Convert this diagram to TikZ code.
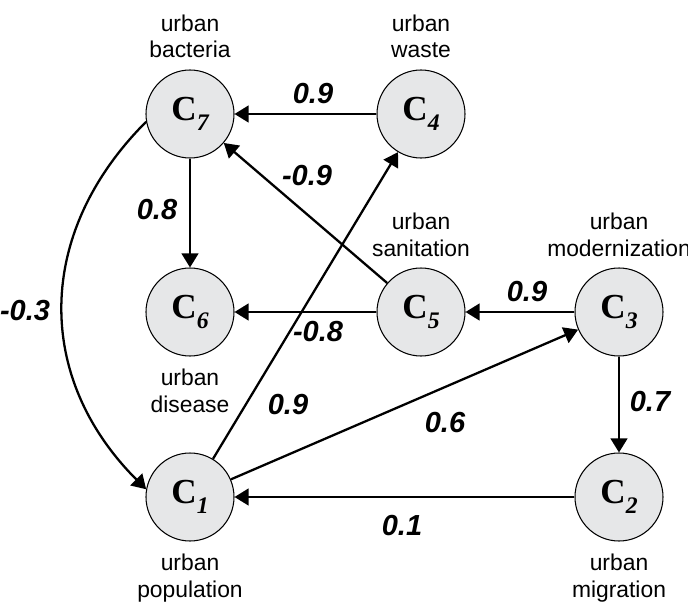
\documentclass[tikz,border=0pt]{standalone}
\usepackage{fontspec}
\setmainfont{Liberation Sans}
\newfontfamily\cfont{Liberation Serif}
\usetikzlibrary{arrows.meta,positioning}

\definecolor{nodegray}{RGB}{230,231,232}

% concept name: bold C with italic index
\newcommand{\cname}[1]{{\cfont\bfseries C\raisebox{-5.5pt}{\fontsize{13.5}{13.5}\selectfont\itshape #1}}}

\begin{document}
\begin{tikzpicture}[
        concept/.style={circle, draw, line width=0.6pt, fill=nodegray, minimum size=1.76cm, inner sep=0pt, font=\fontsize{20}{20}\selectfont},
        tag/.style={align=center, inner sep=0pt, font=\fontsize{13}{15}\selectfont},
        wt/.style={inner sep=0pt, font=\fontsize{16.5}{16.5}\selectfont\bfseries\itshape},
        link/.style={line width=1.3pt, -{Triangle[length=8pt,width=9.5pt]}}
    ]
        \useasboundingbox (0,0) rectangle (13.76,12.08);

        % Concepts
        \node[concept] (C7) at (3.8,9.8) {\cname{7}};
        \node[concept] (C4) at (8.42,9.8) {\cname{4}};
        \node[concept] (C6) at (3.8,5.84) {\cname{6}};
        \node[concept] (C5) at (8.42,5.84) {\cname{5}};
        \node[concept] (C3) at (12.38,5.84) {\cname{3}};
        \node[concept] (C1) at (3.8,2.14) {\cname{1}};
        \node[concept] (C2) at (12.38,2.14) {\cname{2}};

        % Names of the concepts
        \node[tag, above=6.5pt of C7] (t7) {urban\\bacteria};
        \node[tag, above=6.5pt of C4] (t4) {urban\\waste};
        \node[tag, above=6pt of C5] (t5) {urban\\sanitation};
        \node[tag, above=6pt of C3] (t3) {urban\\modernization};
        \node[tag, below=7pt of C6] (t6) {urban\\disease};
        \node[tag, below=7pt of C1] (t1) {urban\\population};
        \node[tag, below=7pt of C2] (t2) {urban\\migration};

        % Causal links
        \draw[link] (C4) -- (C7);
        \draw[link] (C5) -- (C7);
        \draw[link] (C7) -- (C6);
        \draw[link] (C5) -- (C6);
        \draw[link] (C3) -- (C5);
        \draw[link] (C3) -- (C2);
        \draw[link] (C2) -- (C1);
        \draw[link] (C1) -- (C4);
        \draw[link] (C1) -- (C3);
        \draw[link] (C7.190) to[out=225, in=135, looseness=1.1] (C1.170);

        % Weights
        \node[wt] (w74) at (6.26,10.2) {0.9};
        \node[wt] (w57) at (6.14,8.56) {-0.9};
        \node[wt] (w76) at (3.14,7.88) {0.8};
        \node[wt] (w71) at (0.5,5.86) {-0.3};
        \node[wt] (w56) at (6.36,5.44) {-0.8};
        \node[wt] (w35) at (10.54,6.24) {0.9};
        \node[wt] (w32) at (13.0,4.04) {0.7};
        \node[wt] (w14) at (5.76,3.98) {0.9};
        \node[wt] (w13) at (8.9,3.62) {0.6};
        \node[wt] (w21) at (8.04,1.56) {0.1};
    \end{tikzpicture}
\end{document}
